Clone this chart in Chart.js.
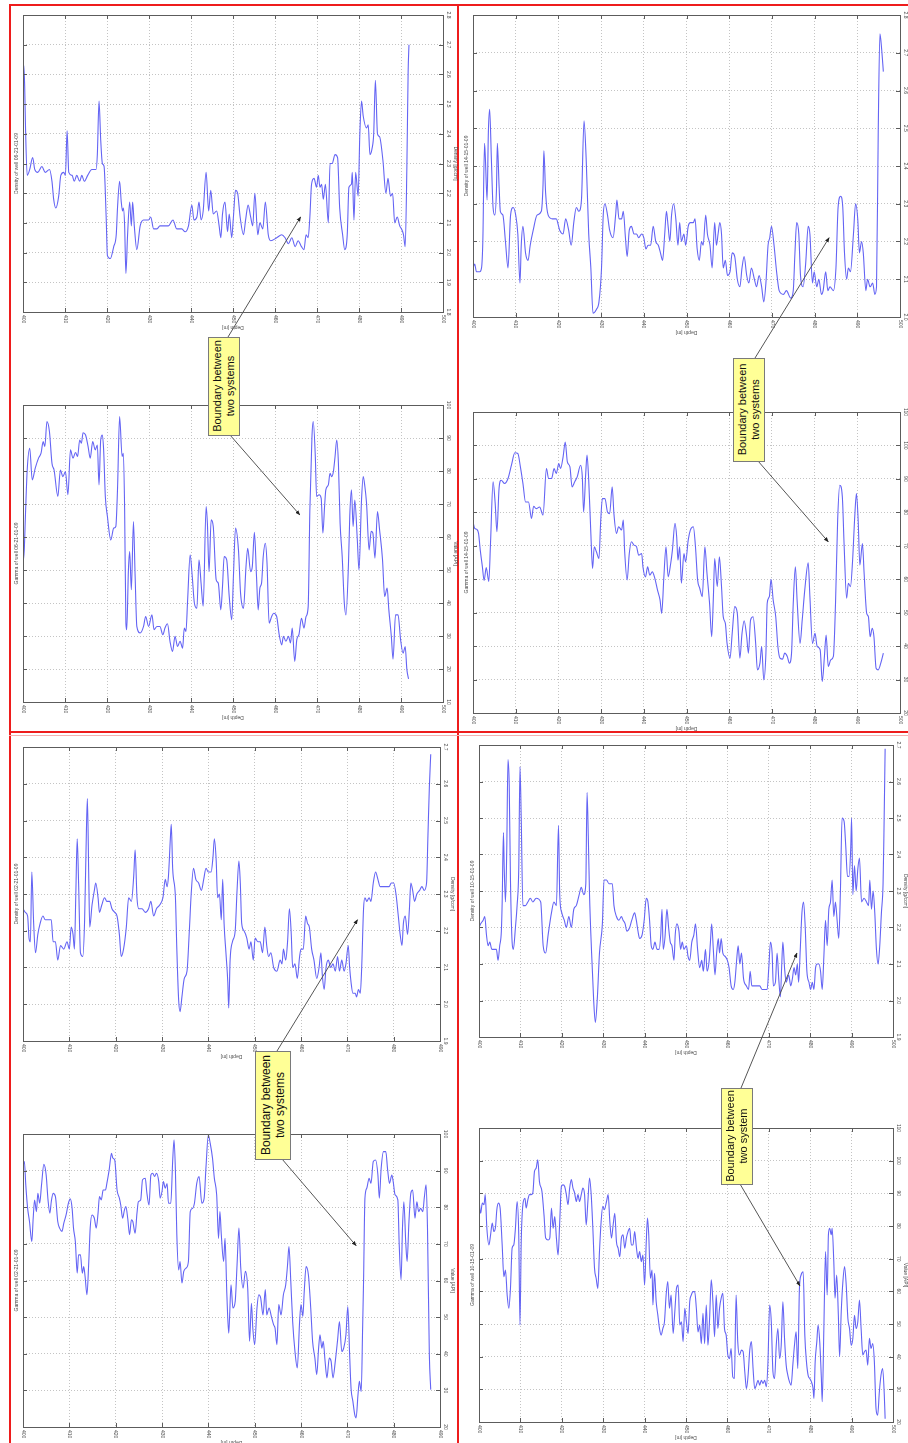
<!DOCTYPE html>
<html>
<head>
<meta charset="utf-8">
<title>Boundary between two systems</title>
<script src="https://cdn.jsdelivr.net/npm/chart.js@4.4.1/dist/chart.umd.min.js"></script>
<style>
  html, body { margin: 0; padding: 0; background: #fff; }
  #page { position: relative; width: 908px; height: 1443px; overflow: hidden; background: #fff; }
  #page canvas { position: absolute; }
  .rule { position: absolute; background: #ee1c1c; }
  #overlay { position: absolute; left: 0; top: 0; }
</style>
</head>
<body>
<div id="page"></div>
<script>
// ---- data: [depth m, value] ----

// well 06-21-01-09, density [g/ccm]
const well06Density = [
  [400.0,2.54],[400.2,2.63],[400.4,2.56],[400.6,2.42],[401.0,2.26],[401.6,2.28],[402.3,2.32],[402.8,2.28],[403.5,2.27],[404.5,2.29],
  [405.3,2.27],[406.3,2.28],[406.9,2.24],[407.3,2.18],[407.8,2.15],[408.5,2.19],[409.0,2.26],[409.7,2.27],[410.1,2.26],[410.5,2.41],
  [410.9,2.27],[411.7,2.26],[412.2,2.24],[412.8,2.26],[413.5,2.24],[414.0,2.26],[414.6,2.24],[415.4,2.26],[416.4,2.28],[417.4,2.28],
  [417.7,2.33],[418.1,2.51],[418.5,2.38],[418.9,2.30],[419.3,2.29],[419.8,2.12],[420.1,1.99],[420.8,1.98],[421.6,2.02],[422.2,2.06],
  [422.5,2.15],[423.0,2.24],[423.4,2.17],[423.7,2.14],[423.9,2.15],[424.2,2.09],[424.5,1.93],[424.9,2.06],[425.4,2.17],[425.8,2.09],
  [426.1,2.17],[426.5,2.09],[427.1,2.01],[427.9,2.09],[428.7,2.11],[429.9,2.11],[430.4,2.12],[431.1,2.08],[431.9,2.08],[432.6,2.09],
  [433.8,2.09],[434.6,2.09],[435.7,2.11],[436.6,2.08],[437.8,2.08],[438.6,2.07],[439.4,2.09],[440.2,2.16],[440.7,2.11],[441.4,2.12],
  [441.9,2.17],[442.4,2.11],[442.9,2.14],[443.6,2.27],[444.2,2.14],[444.7,2.21],[445.3,2.13],[446.1,2.14],[446.7,2.09],[447.1,2.05],
  [447.5,2.13],[448.1,2.17],[448.7,2.07],[449.1,2.13],[449.7,2.05],[450.1,2.12],[450.6,2.21],[451.1,2.20],[451.7,2.12],[452.5,2.06],
  [453.0,2.11],[453.6,2.16],[454.2,2.12],[454.7,2.09],[455.2,2.20],[455.9,2.06],[456.4,2.10],[457.1,2.08],[457.7,2.17],[458.4,2.06],
  [459.0,2.04],[460.4,2.05],[461.6,2.06],[462.4,2.05],[463.2,2.03],[464.0,2.05],[464.8,2.02],[465.5,2.04],[466.3,2.02],[466.9,2.01],
  [467.4,2.06],[467.9,2.05],[468.3,2.12],[468.7,2.23],[469.3,2.25],[469.9,2.22],[470.3,2.26],[470.7,2.22],[471.1,2.23],[471.5,2.18],
  [472.0,2.23],[472.7,2.10],[473.1,2.30],[473.6,2.30],[474.3,2.33],[474.9,2.32],[475.4,2.15],[476.1,2.06],[476.6,2.01],[477.2,2.06],
  [477.6,2.22],[478.2,2.23],[478.4,2.27],[478.8,2.11],[479.2,2.27],[479.8,2.19],[480.2,2.40],[480.6,2.51],[481.0,2.46],[481.8,2.42],
  [482.2,2.43],[482.6,2.33],[483.1,2.35],[483.5,2.40],[483.9,2.58],[484.4,2.40],[484.9,2.39],[485.7,2.31],[486.4,2.20],[486.9,2.25],
  [487.5,2.19],[488.0,2.20],[488.5,2.10],[489.1,2.12],[489.7,2.09],[490.1,2.08],[490.6,2.06],[491.0,2.02],[491.4,2.29],[491.7,2.61],
  [491.9,2.70]
];

// well 06-21-01-09, gamma [API]
const well06Gamma = [
  [400.0,52.1],[400.3,56.1],[400.6,67.2],[401.0,80.3],[401.6,86.9],[402.2,77.3],[402.9,80.8],[403.7,83.9],[404.3,85.4],[404.8,88.9],
  [405.2,87.4],[405.7,95.0],[406.3,91.9],[406.9,82.3],[407.4,80.3],[408.3,72.3],[408.9,80.3],[409.5,78.3],[410.1,79.8],[410.7,72.8],
  [411.3,86.4],[411.9,83.9],[412.5,85.6],[413.0,84.4],[413.5,89.4],[413.9,88.4],[414.3,91.6],[414.9,90.9],[415.5,87.4],[416.0,83.9],
  [416.6,88.9],[417.2,86.4],[417.7,87.9],[418.1,75.8],[418.5,89.4],[418.9,90.9],[419.2,86.4],[419.6,72.3],[420.1,66.2],[420.9,59.1],
  [421.6,62.7],[422.1,63.2],[422.5,74.3],[423.0,96.5],[423.6,84.4],[423.9,85.4],[424.2,68.2],[424.5,33.9],[424.7,31.9],[425.1,50.0],
  [425.4,55.6],[425.8,44.0],[426.3,64.7],[426.7,48.0],[427.1,32.9],[427.9,30.9],[428.7,32.9],[429.2,35.9],[429.9,32.9],[430.7,36.4],
  [431.2,31.9],[431.9,32.9],[432.6,32.9],[433.3,30.4],[433.8,32.4],[434.4,33.7],[435.0,28.4],[435.6,25.3],[436.2,29.9],[436.8,26.8],
  [437.4,28.4],[438.0,26.3],[438.4,32.4],[438.8,31.4],[439.2,41.0],[439.8,54.6],[440.3,48.0],[440.8,40.0],[441.4,38.4],[441.9,53.1],
  [442.4,46.0],[442.9,39.0],[443.6,69.2],[443.9,64.2],[444.3,49.5],[444.8,65.2],[445.3,63.2],[446.0,47.0],[446.5,46.0],[447.1,37.9],
  [447.5,45.0],[447.9,54.1],[448.5,53.1],[449.1,42.0],[449.7,34.9],[450.1,48.0],[450.6,62.7],[451.3,56.1],[451.8,43.0],[452.5,38.4],
  [453.1,51.1],[453.5,56.6],[454.2,49.5],[454.6,51.1],[455.1,61.4],[455.6,48.0],[456.0,37.9],[456.4,44.5],[456.8,46.0],[457.2,54.1],
  [457.7,58.1],[458.1,52.1],[458.6,33.9],[459.2,35.9],[459.7,36.9],[460.4,35.9],[461.0,30.4],[461.6,27.3],[462.0,29.9],[462.6,28.4],
  [463.2,29.9],[463.7,27.9],[464.1,32.4],[464.7,22.3],[465.2,29.0],[465.7,30.4],[466.3,35.4],[466.9,32.4],[467.4,35.9],[467.9,38.9],
  [468.3,68.2],[468.8,90.4],[469.1,95.0],[469.6,84.4],[469.9,72.3],[470.5,72.8],[471.0,71.7],[471.4,61.2],[471.8,69.2],[472.1,74.3],
  [472.7,75.8],[473.1,79.3],[473.5,78.3],[473.9,79.8],[474.3,84.4],[474.7,89.4],[475.1,82.3],[475.5,64.2],[476.0,54.1],[476.5,40.0],
  [476.9,36.4],[477.5,52.1],[477.8,66.2],[478.2,74.3],[478.6,63.2],[479.0,71.2],[479.6,59.1],[480.0,50.0],[480.6,71.2],[481.0,78.3],
  [481.4,75.3],[481.8,70.2],[482.4,56.1],[482.9,61.7],[483.3,61.2],[483.8,53.6],[484.4,67.7],[484.9,62.2],[485.6,53.1],[486.1,42.0],
  [486.7,44.5],[487.1,38.0],[487.7,29.9],[488.1,23.0],[488.7,36.4],[489.3,36.4],[489.9,28.9],[490.5,24.8],[491.0,26.8],[491.4,19.8],
  [491.8,17.0]
];

// well 14-15-01-09, density [g/ccm]
const well14Density = [
  [400.0,2.13],[400.4,2.14],[400.8,2.12],[401.6,2.12],[402.0,2.13],[402.3,2.20],[402.7,2.46],[402.9,2.42],[403.3,2.31],[403.6,2.49],
  [403.9,2.55],[404.3,2.42],[404.7,2.29],[405.1,2.27],[405.5,2.34],[405.7,2.46],[406.1,2.35],[406.4,2.28],[407.0,2.27],[407.6,2.20],
  [408.2,2.13],[408.8,2.27],[409.4,2.29],[410.0,2.27],[410.5,2.22],[411.0,2.09],[411.3,2.19],[411.7,2.24],[412.3,2.17],[412.9,2.15],
  [413.4,2.19],[414.1,2.23],[415.0,2.27],[416.0,2.28],[416.4,2.35],[416.6,2.44],[417.0,2.33],[417.6,2.27],[418.6,2.26],[419.5,2.26],
  [420.3,2.23],[421.1,2.22],[421.7,2.26],[422.4,2.23],[423.0,2.19],[423.6,2.25],[424.2,2.29],[424.8,2.28],[425.4,2.31],[426.0,2.52],
  [426.5,2.42],[427.1,2.22],[427.6,2.13],[428.1,2.01],[428.9,2.02],[429.5,2.04],[430.1,2.13],[430.5,2.27],[430.9,2.30],[431.5,2.27],
  [432.0,2.23],[432.8,2.21],[433.4,2.27],[433.7,2.31],[434.2,2.26],[434.8,2.26],[435.2,2.28],[435.7,2.21],[436.1,2.16],[436.6,2.23],
  [437.1,2.24],[437.7,2.22],[438.3,2.22],[438.8,2.21],[439.5,2.22],[440.0,2.21],[440.5,2.18],[441.0,2.19],[441.6,2.19],[442.2,2.24],
  [442.8,2.20],[443.4,2.19],[443.9,2.17],[444.4,2.15],[444.9,2.22],[445.3,2.28],[445.7,2.24],[446.1,2.20],[446.5,2.27],[447.0,2.30],
  [447.5,2.26],[448.0,2.19],[448.4,2.25],[448.8,2.20],[449.4,2.22],[449.8,2.19],[450.4,2.24],[450.9,2.25],[451.6,2.25],[452.0,2.26],
  [452.5,2.18],[453.0,2.15],[453.5,2.20],[453.9,2.19],[454.5,2.27],[454.9,2.22],[455.5,2.19],[456.0,2.13],[456.6,2.25],[457.0,2.19],
  [457.4,2.22],[457.8,2.25],[458.2,2.22],[458.6,2.13],[459.1,2.15],[459.6,2.11],[460.2,2.12],[460.7,2.17],[461.3,2.16],[461.9,2.10],
  [462.5,2.08],[463.0,2.13],[463.5,2.16],[464.1,2.11],[464.6,2.09],[465.2,2.13],[465.9,2.10],[466.4,2.08],[467.0,2.11],[467.6,2.08],
  [468.1,2.04],[468.6,2.09],[469.1,2.19],[469.5,2.21],[469.9,2.24],[470.5,2.19],[471.1,2.12],[471.7,2.07],[472.7,2.06],[473.4,2.07],
  [474.4,2.05],[475.0,2.07],[475.4,2.17],[475.8,2.25],[476.3,2.22],[476.7,2.11],[477.3,2.08],[477.9,2.14],[478.5,2.24],[478.9,2.22],
  [479.5,2.09],[479.9,2.12],[480.5,2.08],[481.0,2.10],[481.6,2.06],[482.0,2.07],[482.6,2.12],[483.1,2.07],[483.6,2.08],[484.4,2.07],
  [485.0,2.13],[485.5,2.29],[486.1,2.32],[486.6,2.29],[487.0,2.17],[487.5,2.10],[487.9,2.13],[488.4,2.12],[489.1,2.22],[489.6,2.30],
  [490.1,2.26],[490.5,2.17],[491.0,2.20],[491.4,2.17],[492.0,2.07],[492.4,2.10],[493.0,2.08],[493.6,2.09],[494.1,2.06],[494.5,2.08],
  [494.9,2.49],[495.3,2.75],[495.7,2.71],[496.1,2.65]
];

// well 14-15-01-09, gamma [API]
const well14Gamma = [
  [400.0,77.2],[400.4,75.2],[400.9,74.9],[401.3,73.7],[401.7,68.7],[402.2,63.7],[402.6,59.6],[403.1,63.5],[403.7,59.3],[404.1,70.7],
  [404.7,89.1],[405.2,82.6],[405.6,74.2],[406.1,87.1],[406.6,89.6],[407.4,88.6],[408.2,90.1],[409.0,94.1],[409.8,97.8],[410.5,97.6],
  [411.1,93.6],[411.7,88.6],[412.3,83.1],[413.0,83.1],[413.7,78.2],[414.2,81.8],[414.8,81.1],[415.6,81.6],[416.4,79.2],[417.2,93.1],
  [417.7,90.1],[418.4,90.1],[419.0,93.1],[419.5,91.6],[420.1,94.6],[420.5,93.1],[421.1,96.6],[421.6,101.0],[422.1,95.1],[422.7,93.6],
  [423.2,87.6],[423.8,89.1],[424.4,90.6],[425.2,94.1],[425.6,90.6],[425.9,80.1],[426.4,91.6],[426.7,97.1],[427.1,89.6],[427.6,73.7],
  [428.0,63.2],[428.4,69.7],[428.9,68.2],[429.5,66.2],[429.9,77.2],[430.3,84.1],[430.9,84.1],[431.5,80.1],[432.0,79.6],[432.6,87.6],
  [433.0,79.6],[433.6,73.7],[434.1,75.7],[434.8,74.7],[435.2,77.7],[435.5,68.7],[436.1,59.8],[436.6,67.7],[437.1,71.2],[437.7,70.2],
  [438.3,69.7],[438.8,67.2],[439.5,67.7],[439.8,63.7],[440.4,60.7],[440.9,63.7],[441.4,61.2],[442.0,62.2],[442.6,60.2],[443.2,56.8],
  [443.8,53.8],[444.2,49.8],[444.7,60.7],[445.2,69.7],[445.7,60.7],[446.3,64.7],[446.7,68.7],[447.3,76.7],[447.7,72.7],[448.0,65.7],
  [448.4,69.7],[448.8,58.8],[449.4,67.7],[449.8,65.2],[450.4,71.7],[450.9,74.7],[451.6,75.7],[452.1,69.7],[452.6,59.8],[453.1,57.3],
  [453.7,54.8],[454.3,69.7],[454.8,61.7],[455.4,52.8],[455.9,42.8],[456.3,54.8],[456.6,66.2],[457.2,57.8],[457.7,66.7],[458.2,57.8],
  [458.6,48.8],[459.1,46.8],[459.5,40.8],[460.2,36.4],[460.7,43.8],[461.3,51.8],[461.9,49.8],[462.5,36.4],[463.0,43.8],[463.5,47.6],
  [464.1,42.8],[464.5,37.9],[465.0,47.8],[465.6,48.8],[466.2,40.8],[466.6,32.9],[467.2,34.9],[467.6,39.9],[468.1,29.9],[468.6,37.9],
  [468.9,52.8],[469.4,54.8],[469.8,60.0],[470.3,53.8],[470.9,48.8],[471.4,39.9],[471.9,36.4],[472.5,36.1],[473.0,37.9],[473.6,36.9],
  [474.1,34.9],[474.6,37.9],[475.0,52.8],[475.5,63.7],[475.9,53.8],[476.6,40.8],[477.1,47.8],[477.7,56.8],[478.5,64.9],[478.9,54.8],
  [479.5,40.8],[480.1,43.8],[480.6,39.9],[481.3,38.9],[481.8,29.4],[482.3,36.9],[482.7,43.3],[483.2,33.9],[483.8,35.9],[484.4,36.9],
  [484.9,52.8],[485.4,77.7],[485.9,88.1],[486.5,84.6],[486.9,70.7],[487.5,54.3],[487.9,58.8],[488.4,57.8],[488.9,65.7],[489.4,78.7],
  [489.8,85.6],[490.2,77.7],[490.6,64.2],[491.2,70.7],[491.6,61.7],[492.2,49.8],[492.6,48.8],[493.0,42.8],[493.5,45.3],[493.9,42.8],
  [494.4,33.4],[494.9,32.9],[495.5,34.9],[496.1,37.9]
];

// well 02-21-01-09, density [g/ccm]
const well02Density = [
  [400.0,2.26],[400.5,2.25],[401.0,2.24],[401.3,2.18],[401.6,2.17],[401.9,2.36],[402.3,2.22],[402.7,2.14],[403.2,2.19],[403.7,2.22],
  [404.3,2.24],[404.8,2.23],[405.5,2.23],[406.1,2.23],[406.5,2.17],[407.0,2.17],[407.5,2.12],[408.1,2.16],[408.8,2.15],[409.5,2.17],
  [410.0,2.15],[410.4,2.21],[410.8,2.19],[411.1,2.15],[411.4,2.30],[411.7,2.45],[412.0,2.33],[412.4,2.14],[412.9,2.13],[413.3,2.23],
  [413.7,2.48],[413.9,2.56],[414.2,2.34],[414.4,2.21],[414.9,2.27],[415.4,2.31],[415.7,2.33],[416.2,2.29],[416.5,2.25],[417.0,2.27],
  [417.6,2.29],[418.1,2.28],[418.7,2.28],[419.2,2.26],[419.8,2.25],[420.3,2.24],[420.8,2.19],[421.2,2.13],[421.7,2.15],[422.3,2.21],
  [422.8,2.29],[423.4,2.28],[423.9,2.35],[424.2,2.42],[424.6,2.29],[425.0,2.26],[425.7,2.26],[426.4,2.25],[427.1,2.26],[427.6,2.28],
  [428.2,2.24],[428.8,2.26],[429.5,2.27],[430.2,2.29],[430.7,2.34],[431.1,2.32],[431.4,2.35],[431.8,2.45],[432.0,2.49],[432.3,2.37],
  [432.9,2.29],[433.2,2.15],[433.6,2.01],[433.9,1.98],[434.3,2.02],[434.8,2.07],[435.4,2.09],[435.9,2.20],[436.3,2.30],[436.8,2.37],
  [437.3,2.34],[437.9,2.33],[438.5,2.31],[439.0,2.34],[439.5,2.37],[440.0,2.36],[440.6,2.36],[441.0,2.40],[441.3,2.45],[441.7,2.39],
  [442.0,2.29],[442.4,2.30],[442.8,2.23],[443.1,2.34],[443.4,2.22],[443.8,2.14],[444.2,2.06],[444.4,1.99],[444.7,2.12],[445.2,2.17],
  [445.8,2.20],[446.2,2.31],[446.6,2.39],[446.9,2.33],[447.2,2.22],[447.7,2.20],[448.3,2.18],[448.8,2.15],[449.2,2.17],[449.7,2.12],
  [450.1,2.18],[450.7,2.17],[451.2,2.17],[451.7,2.14],[452.2,2.21],[452.6,2.16],[453.0,2.13],[453.5,2.14],[454.1,2.10],[454.8,2.09],
  [455.5,2.12],[455.9,2.11],[456.2,2.15],[456.7,2.12],[457.1,2.17],[457.5,2.26],[457.9,2.19],[458.2,2.10],[458.7,2.11],[459.2,2.07],
  [459.7,2.13],[460.0,2.15],[460.5,2.15],[461.0,2.24],[461.4,2.22],[461.8,2.21],[462.3,2.15],[462.8,2.12],[463.4,2.07],[463.9,2.10],
  [464.3,2.14],[464.6,2.08],[465.0,2.04],[465.4,2.10],[465.9,2.12],[466.4,2.10],[466.9,2.11],[467.4,2.09],[467.9,2.13],[468.3,2.09],
  [468.8,2.12],[469.3,2.09],[469.7,2.11],[470.2,2.16],[470.5,2.10],[470.8,2.06],[471.2,2.03],[471.7,2.03],[472.0,2.02],[472.4,2.04],
  [472.8,2.03],[473.1,2.10],[473.5,2.26],[473.8,2.29],[474.2,2.28],[474.7,2.29],[475.1,2.28],[475.6,2.33],[476.1,2.36],[476.6,2.34],
  [477.1,2.32],[477.6,2.32],[478.0,2.32],[478.5,2.32],[479.0,2.32],[479.5,2.33],[480.0,2.33],[480.5,2.30],[481.0,2.24],[481.4,2.19],
  [481.8,2.16],[482.1,2.22],[482.5,2.24],[483.0,2.19],[483.4,2.26],[483.7,2.33],[484.1,2.31],[484.5,2.28],[485.0,2.30],[485.6,2.31],
  [486.1,2.32],[486.6,2.31],[487.1,2.33],[487.4,2.46],[487.7,2.59],[488.0,2.68]
];

// well 02-21-01-09, gamma [API]
const well02Gamma = [
  [400.0,91.5],[400.3,92.5],[400.6,86.1],[401.0,79.7],[401.4,76.1],[401.9,70.6],[402.2,77.0],[402.5,82.0],[402.9,78.8],[403.2,83.8],
  [403.6,81.1],[404.0,86.1],[404.5,91.7],[405.0,88.8],[405.4,82.0],[405.8,78.4],[406.1,81.5],[406.5,83.8],[407.0,82.9],[407.5,76.1],
  [407.9,74.3],[408.4,73.4],[408.8,75.6],[409.3,77.9],[409.8,81.1],[410.2,82.3],[410.6,79.7],[410.9,74.3],[411.3,70.6],[411.7,62.0],
  [412.0,67.0],[412.4,67.0],[412.8,62.0],[413.1,63.8],[413.4,61.1],[413.8,56.1],[414.2,65.2],[414.5,74.3],[414.9,77.9],[415.4,77.0],
  [415.8,74.3],[416.2,78.4],[416.5,82.9],[416.9,82.0],[417.3,84.7],[417.8,84.7],[418.1,86.5],[418.6,90.2],[419.1,94.7],[419.4,93.4],
  [419.8,92.9],[420.3,84.7],[420.8,82.5],[421.1,80.6],[421.5,77.0],[421.9,79.3],[422.2,80.2],[422.6,77.0],[423.0,72.5],[423.4,76.6],
  [423.7,76.1],[424.2,72.9],[424.6,78.4],[424.9,81.5],[425.4,82.0],[425.8,87.5],[426.4,87.9],[426.7,84.3],[427.2,80.6],[427.6,88.8],
  [428.0,89.3],[428.4,88.4],[428.8,89.3],[429.3,87.0],[429.6,82.5],[430.0,84.3],[430.3,87.0],[430.7,85.2],[431.1,86.5],[431.4,81.1],
  [431.9,81.1],[432.3,92.5],[432.6,98.4],[432.9,89.7],[433.2,72.5],[433.6,62.9],[433.9,65.2],[434.3,59.3],[434.7,62.5],[435.2,63.4],
  [435.7,65.2],[436.1,78.8],[436.6,79.7],[437.0,81.1],[437.5,86.5],[438.0,88.4],[438.6,81.1],[439.1,82.5],[439.5,91.1],[440.0,99.7],
  [440.4,97.5],[440.9,93.4],[441.3,87.9],[441.8,83.4],[442.2,71.5],[442.5,78.8],[442.8,72.5],[443.3,65.2],[443.6,71.5],[444.0,56.1],
  [444.4,45.6],[444.6,50.6],[444.9,58.8],[445.3,52.5],[445.8,54.3],[446.2,64.3],[446.6,74.3],[447.0,63.4],[447.5,57.9],[448.0,62.5],
  [448.5,57.9],[448.9,43.4],[449.3,53.8],[449.6,47.0],[450.0,42.5],[450.5,52.5],[450.9,56.1],[451.3,55.2],[451.8,50.6],[452.3,57.5],
  [452.6,50.6],[453.1,52.5],[453.6,50.2],[454.1,47.9],[454.4,47.0],[454.8,42.5],[455.2,53.4],[455.7,50.6],[456.2,56.1],[456.7,58.8],
  [457.1,64.3],[457.4,69.3],[457.8,59.7],[458.2,48.8],[458.7,40.6],[459.2,36.1],[459.7,48.8],[460.0,53.4],[460.4,50.2],[460.7,57.0],
  [461.1,63.8],[461.6,61.5],[462.1,52.5],[462.5,43.4],[463.0,38.8],[463.4,34.3],[463.8,41.5],[464.1,45.2],[464.5,41.5],[464.8,43.4],
  [465.2,37.9],[465.6,33.4],[466.1,38.8],[466.5,37.9],[466.9,33.4],[467.4,37.9],[467.9,43.8],[468.3,48.8],[468.8,40.6],[469.2,41.5],
  [469.7,45.2],[470.1,52.9],[470.5,39.7],[470.8,30.6],[471.2,27.0],[471.6,23.4],[471.9,22.5],[472.3,28.8],[472.6,32.5],[473.0,29.7],
  [473.3,47.0],[473.5,59.7],[473.8,82.5],[474.2,85.2],[474.7,87.9],[475.1,86.5],[475.6,92.5],[476.1,92.9],[476.6,88.8],[476.9,82.5],
  [477.3,90.6],[477.8,95.2],[478.3,95.2],[478.7,90.2],[479.1,86.5],[479.6,88.8],[479.9,87.0],[480.3,83.4],[480.9,82.0],[481.2,69.7],
  [481.6,60.2],[481.9,74.3],[482.2,81.5],[482.6,70.6],[482.9,65.2],[483.3,76.1],[483.7,83.8],[484.1,84.7],[484.6,77.0],[485.0,81.5],
  [485.4,78.8],[485.8,79.7],[486.3,78.8],[486.6,82.5],[487.0,86.1],[487.3,74.3],[487.7,39.7],[488.0,30.2]
];

// well 10-15-01-09, density [g/ccm]
const well10Density = [
  [400.0,2.20],[400.4,2.21],[401.0,2.22],[401.4,2.23],[401.8,2.18],[402.2,2.15],[402.6,2.16],[403.1,2.14],[403.8,2.14],[404.2,2.14],
  [404.6,2.11],[405.0,2.15],[405.4,2.19],[405.6,2.27],[405.9,2.46],[406.1,2.36],[406.4,2.27],[406.7,2.41],[407.0,2.66],[407.3,2.59],
  [407.6,2.33],[408.0,2.16],[408.3,2.14],[408.8,2.20],[409.2,2.26],[409.6,2.36],[409.9,2.64],[410.2,2.50],[410.6,2.26],[411.2,2.26],
  [411.8,2.27],[412.4,2.28],[413.0,2.27],[413.8,2.28],[414.9,2.27],[415.5,2.15],[416.1,2.13],[416.7,2.18],[417.5,2.24],[418.1,2.27],
  [418.7,2.26],[419.2,2.48],[419.5,2.29],[420.0,2.24],[420.6,2.22],[421.1,2.20],[421.7,2.23],[422.3,2.20],[422.9,2.25],[423.5,2.26],
  [424.2,2.29],[424.7,2.31],[425.3,2.29],[425.8,2.32],[426.1,2.57],[426.4,2.45],[426.7,2.29],[427.2,2.13],[427.7,2.00],[428.1,1.94],
  [428.6,2.01],[429.1,2.13],[429.8,2.21],[430.2,2.33],[430.8,2.33],[431.4,2.32],[432.2,2.32],[432.6,2.26],[433.2,2.23],[433.8,2.22],
  [434.4,2.23],[434.8,2.22],[435.3,2.21],[435.7,2.19],[436.4,2.20],[436.9,2.22],[437.6,2.24],[438.0,2.22],[438.4,2.19],[438.8,2.17],
  [439.4,2.18],[439.9,2.22],[440.4,2.28],[440.8,2.27],[441.2,2.22],[441.6,2.15],[442.0,2.14],[442.5,2.16],[443.0,2.14],[443.5,2.14],
  [443.9,2.18],[444.2,2.25],[444.5,2.14],[444.9,2.17],[445.4,2.25],[445.8,2.20],[446.2,2.16],[446.6,2.15],[447.1,2.11],[447.4,2.18],
  [447.8,2.21],[448.3,2.19],[448.7,2.14],[449.1,2.16],[449.5,2.14],[450.1,2.15],[450.5,2.12],[450.9,2.11],[451.4,2.16],[451.9,2.18],
  [452.3,2.21],[452.8,2.14],[453.3,2.09],[453.8,2.11],[454.2,2.08],[454.7,2.14],[455.1,2.08],[455.6,2.11],[455.9,2.16],[456.2,2.21],
  [456.6,2.14],[457.0,2.07],[457.4,2.13],[457.8,2.17],[458.1,2.13],[458.5,2.17],[458.9,2.13],[459.5,2.12],[460.0,2.11],[460.4,2.09],
  [460.9,2.04],[461.4,2.03],[461.8,2.05],[462.3,2.12],[462.6,2.15],[463.0,2.10],[463.4,2.13],[463.9,2.06],[464.6,2.04],[465.1,2.03],
  [465.5,2.08],[465.9,2.04],[466.6,2.04],[467.2,2.04],[467.8,2.04],[468.4,2.03],[469.0,2.03],[469.6,2.03],[470.0,2.09],[470.4,2.16],
  [470.8,2.13],[471.1,2.04],[471.6,2.05],[472.0,2.13],[472.4,2.06],[472.8,2.01],[473.1,2.09],[473.4,2.16],[473.8,2.09],[474.2,2.05],
  [474.8,2.07],[475.3,2.04],[475.7,2.06],[476.1,2.09],[476.5,2.07],[476.9,2.10],[477.2,2.05],[477.6,2.14],[478.0,2.24],[478.4,2.27],
  [478.8,2.20],[479.2,2.08],[479.7,2.05],[480.1,2.03],[480.5,2.05],[480.9,2.03],[481.3,2.09],[481.7,2.10],[482.1,2.10],[482.5,2.08],
  [482.9,2.03],[483.3,2.12],[483.7,2.22],[484.1,2.15],[484.5,2.25],[484.9,2.27],[485.3,2.33],[485.7,2.23],[486.1,2.27],[486.5,2.22],
  [486.9,2.17],[487.3,2.30],[487.7,2.50],[488.2,2.49],[488.6,2.42],[489.0,2.34],[489.4,2.34],[489.8,2.42],[490.0,2.50],[490.3,2.29],
  [490.7,2.37],[491.1,2.30],[491.5,2.36],[491.9,2.39],[492.4,2.27],[493.0,2.28],[493.6,2.27],[494.1,2.26],[494.4,2.33],[494.8,2.25],
  [495.2,2.30],[495.6,2.24],[496.0,2.14],[496.4,2.10],[496.8,2.15],[497.2,2.24],[497.6,2.32],[497.8,2.45],[498.1,2.69]
];

// well 10-15-01-09, gamma [API]
const well10Gamma = [
  [400.0,88.0],[400.4,83.9],[400.8,87.0],[401.2,86.5],[401.5,89.6],[401.9,79.3],[402.4,74.2],[402.8,77.3],[403.2,80.9],[403.6,78.3],
  [404.0,79.8],[404.3,84.9],[404.7,87.0],[405.1,85.5],[405.6,74.2],[406.0,64.5],[406.4,66.5],[406.8,58.9],[407.2,54.8],[407.6,60.9],
  [408.0,73.2],[408.4,74.2],[408.8,79.3],[409.2,87.5],[409.6,77.3],[409.9,49.7],[410.2,75.2],[410.6,86.5],[411.1,88.5],[411.4,85.5],
  [411.8,88.0],[412.2,89.6],[412.6,89.6],[413.0,90.1],[413.4,96.7],[413.8,97.7],[414.2,100.3],[414.6,93.6],[415.2,90.6],[415.7,83.4],
  [416.1,76.3],[416.7,75.7],[417.1,76.3],[417.5,85.5],[417.9,79.3],[418.3,82.9],[418.7,76.3],[419.1,71.1],[419.5,81.4],[419.9,92.1],
  [420.3,92.6],[420.7,92.1],[421.1,89.6],[421.5,86.5],[421.9,91.6],[422.3,94.2],[422.7,91.6],[423.1,90.1],[423.5,87.5],[423.9,89.6],
  [424.3,87.5],[424.7,89.6],[425.1,91.6],[425.5,89.6],[425.9,80.3],[426.3,87.5],[426.7,94.7],[427.1,89.6],[427.5,79.3],[427.9,67.1],
  [428.3,64.0],[428.7,60.9],[429.1,72.2],[429.5,81.4],[429.9,86.0],[430.3,85.0],[430.8,87.5],[431.2,89.6],[431.6,81.4],[432.0,76.3],
  [432.4,80.3],[432.8,83.9],[433.2,75.2],[433.6,73.2],[434.0,70.6],[434.4,76.3],[434.8,77.3],[435.2,73.2],[435.6,76.3],[436.0,78.3],
  [436.4,79.3],[436.8,74.2],[437.2,74.2],[437.6,78.3],[438.0,73.7],[438.4,70.1],[438.8,72.2],[439.2,69.1],[439.6,71.1],[440.0,61.9],
  [440.4,75.2],[440.7,82.4],[441.0,77.3],[441.4,64.0],[441.8,66.5],[442.0,55.8],[442.4,65.5],[442.8,56.8],[443.2,52.7],[443.6,48.6],
  [444.0,46.6],[444.4,48.6],[444.8,50.7],[445.2,58.9],[445.6,63.0],[446.0,54.8],[446.4,58.9],[446.9,47.1],[447.3,53.8],[447.7,60.9],
  [448.1,61.9],[448.5,49.7],[448.9,50.7],[449.3,44.6],[449.7,54.8],[450.1,50.7],[450.5,47.1],[450.9,56.8],[451.3,58.9],[451.7,59.9],
  [452.1,59.9],[452.5,54.8],[452.9,47.6],[453.3,49.7],[453.7,44.0],[454.1,53.3],[454.5,44.0],[454.9,55.8],[455.3,43.5],[455.7,51.7],
  [456.1,63.5],[456.5,56.8],[456.9,46.1],[457.3,58.9],[457.7,48.6],[458.1,54.8],[458.5,57.9],[458.9,59.4],[459.3,48.6],[459.7,46.6],
  [460.1,40.5],[460.5,39.4],[460.9,42.5],[461.3,33.8],[461.7,33.3],[462.1,58.9],[462.5,44.6],[462.9,40.5],[463.4,42.0],[463.8,41.5],
  [464.2,35.4],[464.6,30.2],[465.0,34.3],[465.4,42.0],[465.8,44.6],[466.2,36.4],[466.6,30.2],[467.0,31.3],[467.4,32.8],[467.8,31.3],
  [468.2,32.8],[468.6,31.8],[469.0,32.8],[469.4,30.8],[469.8,38.4],[470.2,55.8],[470.6,50.7],[471.0,35.4],[471.4,33.3],[471.8,43.5],
  [472.2,48.6],[472.6,39.4],[473.0,43.5],[473.4,56.8],[473.8,45.6],[474.2,37.4],[474.6,34.3],[475.0,32.3],[475.4,31.3],[475.8,37.4],
  [476.2,43.5],[476.6,47.6],[477.0,36.4],[477.4,60.9],[477.8,65.0],[478.3,66.0],[478.7,46.6],[479.1,38.4],[479.5,34.3],[479.9,33.3],
  [480.3,32.3],[480.7,30.2],[480.9,27.2],[481.2,38.4],[481.6,44.6],[481.9,49.7],[482.3,44.6],[482.7,33.3],[482.9,26.2],[483.3,48.6],
  [483.7,72.2],[484.1,58.9],[484.4,77.3],[484.7,79.3],[485.1,77.3],[485.3,79.3],[485.7,69.1],[486.0,57.9],[486.4,65.0],[486.8,52.7],
  [487.1,40.0],[487.5,53.8],[487.9,63.0],[488.3,67.6],[488.7,61.9],[489.1,51.7],[489.5,48.6],[489.9,43.5],[490.3,45.6],[490.7,52.7],
  [491.1,48.6],[491.5,50.7],[491.9,57.3],[492.3,48.6],[492.7,40.5],[493.1,41.5],[493.5,42.0],[493.9,37.4],[494.3,45.6],[494.7,42.5],
  [495.1,44.0],[495.5,38.4],[495.9,24.1],[496.3,22.1],[496.7,29.2],[497.1,34.3],[497.5,36.4],[497.9,28.2],[498.1,21.0]
];

// axis ranges [min, max, step]
const depthFull = [400, 500, 10];
const depthShort = [400, 490, 10];
const densityRangeA = [1.8, 2.8, 0.1];
const densityRangeB = [2.0, 2.8, 0.1];
const densityRangeC = [1.9, 2.7, 0.1];
const gammaRangeA = [10, 100, 10];
const gammaRangeB = [20, 110, 10];
const gammaRangeC = [20, 100, 10];

// ---- layout: plot rectangles on the page [left, top, right, bottom] ----
const panels = [
  { series: well06Density, rect: [23, 15, 443, 312],    x: depthFull,  y: densityRangeA, dec: 1, left: 'Density of well 06-21-01-09', right: 'Density [g/ccm]' },
  { series: well06Gamma,   rect: [23, 405, 443, 702],   x: depthFull,  y: gammaRangeA,   dec: 0, left: 'Gamma of well 06-21-01-09',   right: 'Value [API]' },
  { series: well14Density, rect: [473, 15, 900, 317],   x: depthFull,  y: densityRangeB, dec: 1, left: 'Density of well 14-15-01-09', right: 'Density [g/ccm]' },
  { series: well14Gamma,   rect: [473, 412, 900, 713],  x: depthFull,  y: gammaRangeB,   dec: 0, left: 'Gamma of well 14-15-01-09',   right: 'Value [API]' },
  { series: well02Density, rect: [23, 747, 440, 1041],  x: depthShort, y: densityRangeC, dec: 1, left: 'Density of well 02-21-01-09', right: 'Density [g/ccm]' },
  { series: well02Gamma,   rect: [23, 1134, 440, 1427], x: depthShort, y: gammaRangeC,   dec: 0, left: 'Gamma of well 02-21-01-09',   right: 'Value [API]' },
  { series: well10Density, rect: [479, 745, 893, 1037], x: depthFull,  y: densityRangeC, dec: 1, left: 'Density of well 10-15-01-09', right: 'Density [g/ccm]' },
  { series: well10Gamma,   rect: [479, 1128, 893, 1422],x: depthFull,  y: gammaRangeB,   dec: 0, left: 'Gamma of well 10-15-01-09',   right: 'Value [API]' }
];

// callouts: box [x, y, w, h] and arrows from a box edge to [depth, value] in a panel
const callouts = [
  { box: [208, 337, 31, 98],  size: 11, lines: ['Boundary between', 'two systems'],
    arrows: [{ from: [228, 337], panel: 0, at: [466.1, 2.12] }, { from: [230, 435], panel: 1, at: [465.9, 66.7] }] },
  { box: [733, 358, 31, 103], size: 11, lines: ['Boundary between', 'two systems'],
    arrows: [{ from: [755, 358], panel: 2, at: [483.4, 2.21] }, { from: [758, 461], panel: 3, at: [483.2, 71.2] }] },
  { box: [255, 1051, 35, 108], size: 12, lines: ['Boundary between', 'two systems'],
    arrows: [{ from: [277, 1051], panel: 4, at: [472.2, 2.23] }, { from: [282, 1159], panel: 5, at: [471.9, 69.5] }] },
  { box: [721, 1088, 31, 96], size: 11, lines: ['Boundary between', 'two system'],
    arrows: [{ from: [741, 1088], panel: 6, at: [476.8, 2.13] }, { from: [740, 1184], panel: 7, at: [477.5, 61.7] }] }
];

const PAD = { left: 20, right: 20, top: 5, bottom: 22 };
const FONT = '"Liberation Sans", Arial, sans-serif';

// matlab-like frame, inward ticks and rotated labels
const matlabAxes = {
  id: 'matlabAxes',
  afterDraw(chart, args, opts) {
    const { ctx, chartArea: a } = chart;
    const xs = chart.scales.x, ys = chart.scales.y;
    ctx.save();
    ctx.strokeStyle = '#5c5c5c';
    ctx.lineWidth = 1;
    ctx.strokeRect(a.left + 0.5, a.top + 0.5, a.right - a.left, a.bottom - a.top);

    ctx.beginPath();
    xs.ticks.forEach(t => {
      const px = Math.round(xs.getPixelForValue(t.value)) + 0.5;
      ctx.moveTo(px, a.bottom); ctx.lineTo(px, a.bottom - 4);
      ctx.moveTo(px, a.top); ctx.lineTo(px, a.top + 4);
    });
    ys.ticks.forEach(t => {
      const py = Math.round(ys.getPixelForValue(t.value)) + 0.5;
      ctx.moveTo(a.left, py); ctx.lineTo(a.left + 4, py);
      ctx.moveTo(a.right, py); ctx.lineTo(a.right - 4, py);
    });
    ctx.stroke();

    ctx.fillStyle = '#4a4a4a';
    ctx.font = '5px ' + FONT;
    ctx.textBaseline = 'middle';
    xs.ticks.forEach(t => {
      ctx.save();
      ctx.translate(xs.getPixelForValue(t.value), a.bottom + 3);
      ctx.rotate(Math.PI / 2);
      ctx.textAlign = 'left';
      ctx.fillText(String(Math.round(t.value)), 0, 0);
      ctx.restore();
    });
    ys.ticks.forEach(t => {
      ctx.save();
      ctx.translate(a.right + 5, ys.getPixelForValue(t.value));
      ctx.rotate(Math.PI / 2);
      ctx.textAlign = 'center';
      ctx.fillText(t.value.toFixed(opts.dec), 0, 0);
      ctx.restore();
    });

    const midY = (a.top + a.bottom) / 2, midX = (a.left + a.right) / 2;
    ctx.textAlign = 'center';
    ctx.save();
    ctx.translate(a.left - 6, midY);
    ctx.rotate(-Math.PI / 2);
    ctx.fillText(opts.leftTitle, 0, 0);
    ctx.restore();
    ctx.save();
    ctx.translate(a.right + 12, midY);
    ctx.rotate(Math.PI / 2);
    ctx.fillText(opts.rightTitle, 0, 0);
    ctx.restore();
    ctx.save();
    ctx.translate(midX, a.bottom + 15);
    ctx.rotate(Math.PI);
    ctx.fillText('Depth [m]', 0, 0);
    ctx.restore();
    ctx.restore();
  }
};

const page = document.getElementById('page');

// red frames of the four panels
[[9, 4, 899, 2], [9, 731, 899, 2], [9, 4, 2, 1439], [457, 4, 2, 1439]].forEach(r => {
  const d = document.createElement('div');
  d.className = 'rule';
  d.style.cssText = `left:${r[0]}px;top:${r[1]}px;width:${r[2]}px;height:${r[3]}px`;
  page.appendChild(d);
});
const pink = document.createElement('div');
pink.className = 'rule';
pink.style.cssText = 'left:9px;top:735px;width:899px;height:1px;background:#f3b3b3';
page.appendChild(pink);

const charts = panels.map(p => {
  const [l, t, r, b] = p.rect;
  const c = document.createElement('canvas');
  const w = r - l + PAD.left + PAD.right;
  const h = b - t + PAD.top + PAD.bottom;
  c.width = w; c.height = h;
  c.style.left = (l - PAD.left) + 'px';
  c.style.top = (t - PAD.top) + 'px';
  c.style.width = w + 'px'; c.style.height = h + 'px';
  page.appendChild(c);

  const gridOpts = { color: '#c4c4c4', lineWidth: 1, drawTicks: false };
  const borderOpts = { display: false, dash: [1, 2] };

  const chart = new Chart(c, {
    type: 'line',
    data: {
      datasets: [{
        data: p.series.map(d => ({ x: d[0], y: d[1] })),
        borderColor: '#6464f4',
        borderWidth: 1.1,
        pointRadius: 0,
        fill: false,
        cubicInterpolationMode: 'monotone'
      }]
    },
    options: {
      responsive: false,
      animation: false,
      devicePixelRatio: 1,
      layout: { padding: PAD },
      plugins: {
        legend: { display: false },
        tooltip: { enabled: false },
        matlabAxes: { dec: p.dec, leftTitle: p.left, rightTitle: p.right }
      },
      scales: {
        x: {
          type: 'linear', min: p.x[0], max: p.x[1],
          ticks: { stepSize: p.x[2], display: false },
          grid: gridOpts, border: borderOpts,
          afterFit: s => { s.height = 0; }
        },
        y: {
          type: 'linear', position: 'right', min: p.y[0], max: p.y[1],
          ticks: { stepSize: p.y[2], display: false },
          grid: gridOpts, border: borderOpts,
          afterFit: s => { s.width = 0; }
        }
      }
    },
    plugins: [matlabAxes]
  });
  return { chart, ox: l - PAD.left, oy: t - PAD.top };
});

// overlay with the yellow callouts and arrows
const NS = 'http://www.w3.org/2000/svg';
const svg = document.createElementNS(NS, 'svg');
svg.setAttribute('id', 'overlay');
svg.setAttribute('width', 908);
svg.setAttribute('height', 1443);
svg.innerHTML = `<defs><marker id="head" viewBox="0 0 10 10" refX="9" refY="5" markerWidth="5" markerHeight="5" orient="auto">
  <path d="M0,1 L10,5 L0,9 z" fill="#222"/></marker></defs>`;
page.appendChild(svg);

callouts.forEach(co => {
  co.arrows.forEach(ar => {
    const ch = charts[ar.panel];
    const tx = ch.ox + ch.chart.scales.x.getPixelForValue(ar.at[0]);
    const ty = ch.oy + ch.chart.scales.y.getPixelForValue(ar.at[1]);
    const ln = document.createElementNS(NS, 'line');
    ln.setAttribute('x1', ar.from[0]); ln.setAttribute('y1', ar.from[1]);
    ln.setAttribute('x2', tx); ln.setAttribute('y2', ty);
    ln.setAttribute('stroke', '#555');
    ln.setAttribute('stroke-width', '1');
    ln.setAttribute('marker-end', 'url(#head)');
    svg.appendChild(ln);
  });
  const [bx, by, bw, bh] = co.box;
  const rect = document.createElementNS(NS, 'rect');
  rect.setAttribute('x', bx + 0.5); rect.setAttribute('y', by + 0.5);
  rect.setAttribute('width', bw); rect.setAttribute('height', bh);
  rect.setAttribute('fill', '#ffff96');
  rect.setAttribute('stroke', '#7a7a7a');
  svg.appendChild(rect);
  const cx = bx + bw / 2, cy = by + bh / 2;
  co.lines.forEach((s, i) => {
    const tx = document.createElementNS(NS, 'text');
    const off = (i - 0.5) * (co.size + 2);
    tx.setAttribute('transform', `translate(${cx + off},${cy}) rotate(-90)`);
    tx.setAttribute('text-anchor', 'middle');
    tx.setAttribute('dominant-baseline', 'central');
    tx.setAttribute('font-family', FONT.replace(/"/g, ''));
    tx.setAttribute('font-size', co.size);
    tx.setAttribute('fill', '#111');
    tx.textContent = s;
    svg.appendChild(tx);
  });
});
</script>
</body>
</html>
